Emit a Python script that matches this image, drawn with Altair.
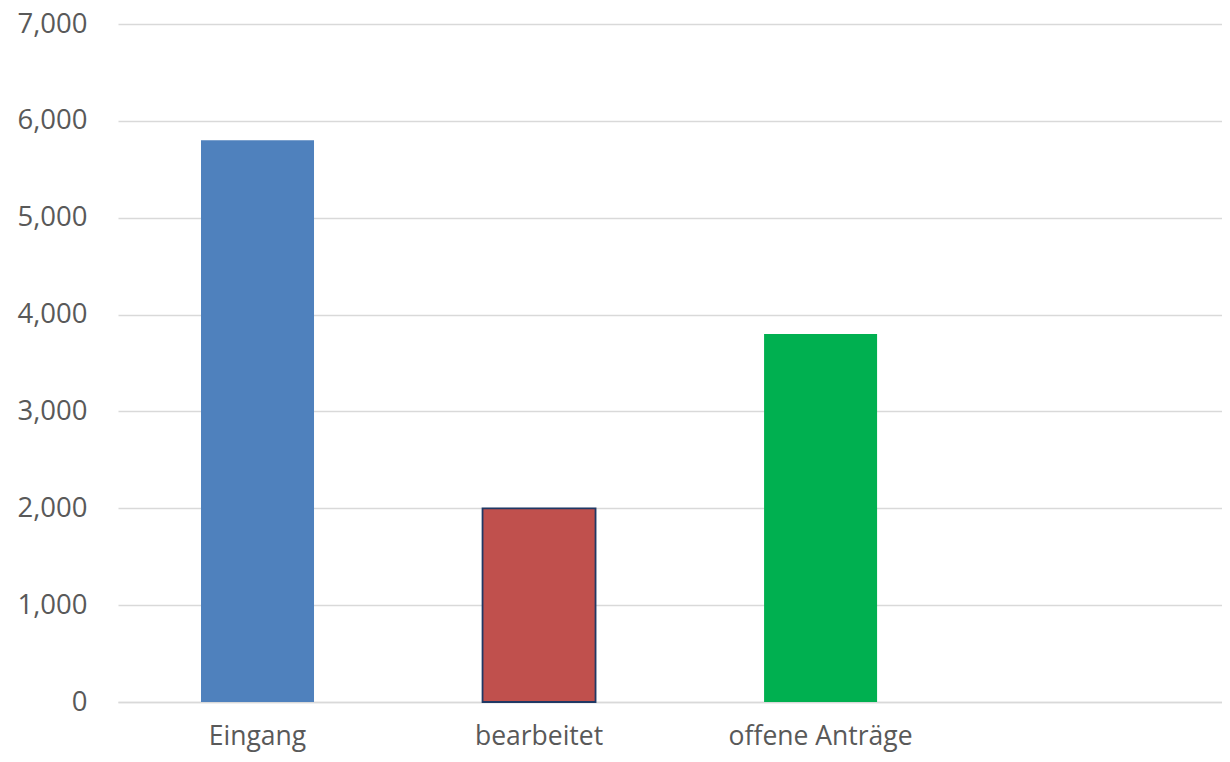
import altair as alt
import pandas as pd

categories = ["Eingang", "bearbeitet", "offene Anträge"]
values = [5800, 2000, 3800]
slots = ["Eingang", "bearbeitet", "offene Anträge", " "]
colors = ["#4F81BD", "#C0504D", "#00B050"]
y_ticks = [0, 1000, 2000, 3000, 4000, 5000, 6000, 7000]

df = pd.DataFrame({"Kategorie": categories, "Wert": values})

FONT = "Open Sans"
TXT = "#595959"
GRID = "#D9D9D9"

chart = alt.Chart(df).mark_bar().encode(
    x=alt.X("Kategorie:N", sort=slots,
            scale=alt.Scale(domain=slots, paddingInner=0.5986, paddingOuter=0.26,
                            align=0.567),
            axis=alt.Axis(title=None, labelAngle=0, ticks=False, domain=True,
                          domainColor=GRID, domainWidth=1.5, labelPadding=21,
                          labelLimit=0, grid=False,
                          labelFont=FONT, labelFontSize=26.5, labelColor=TXT)),
    y=alt.Y("Wert:Q", scale=alt.Scale(domain=[0, 7000], nice=False),
            axis=alt.Axis(title=None, values=y_ticks, format=",.0f", ticks=False,
                          domain=False, grid=True, gridColor=GRID, gridWidth=1.5,
                          labelPadding=31, labelFont=FONT, labelFontSize=27.5,
                          labelLimit=0, labelColor=TXT)),
    color=alt.Color("Kategorie:N", scale=alt.Scale(domain=categories, range=colors),
                    legend=None),
    stroke=alt.value("#203864"),
    strokeWidth=alt.condition(alt.datum.Kategorie == "bearbeitet",
                              alt.value(1.8), alt.value(0)),
).properties(
    width=1104, height=678,
    autosize=alt.AutoSizeParams(type="none"),
    padding={"left": 110, "top": 16, "right": 0, "bottom": 52},
).configure_view(stroke=None)

chart.save("out.html", embed_options={"renderer": "svg", "actions": False})
